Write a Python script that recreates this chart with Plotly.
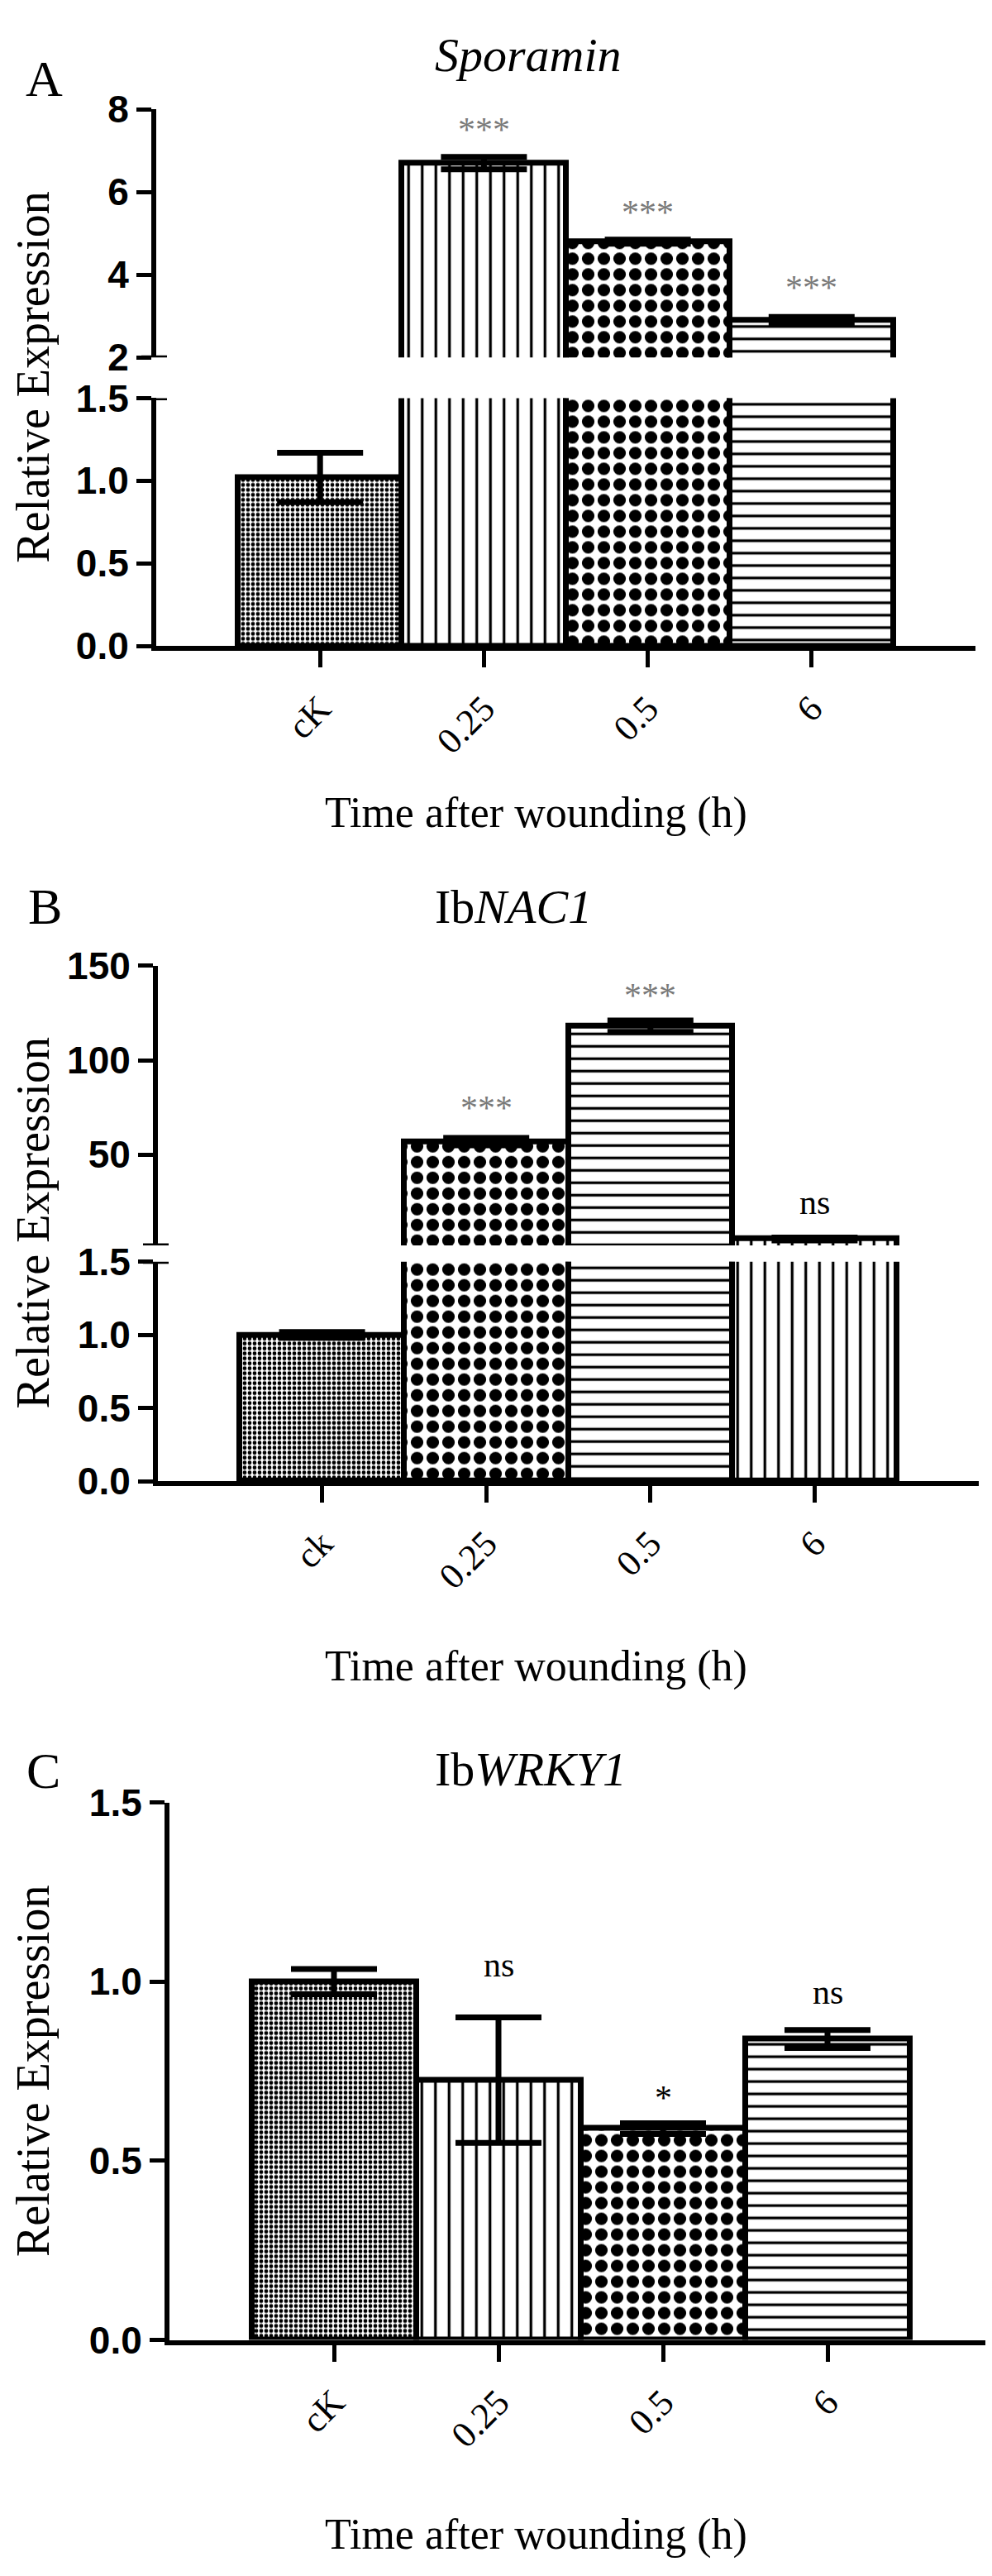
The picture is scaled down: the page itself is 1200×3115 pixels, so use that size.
import plotly.graph_objects as go

W, H = 1200, 3115

# ---------------- data ----------------
cats_A = ["cK", "0.25", "0.5", "6"]
vals_A = [1.02, 6.70, 4.80, 2.90]
err_A = [0.15, 0.15, 0.05, 0.08]
sig_A = ["", "***", "***", "***"]

cats_B = ["ck", "0.25", "0.5", "6"]
vals_B = [1.00, 56.9, 118.0, 5.4]
err_B = [0.02, 2.0, 3.0, 0.8]
sig_B = ["", "***", "***", "ns"]

cats_C = ["cK", "0.25", "0.5", "6"]
vals_C = [1.00, 0.725, 0.59, 0.84]
err_C = [0.035, 0.175, 0.015, 0.025]
sig_C = ["", "ns", "*", "ns"]

titles = ["<i>Sporamin</i>", "Ib<i>NAC1</i>", "Ib<i>WRKY1</i>"]
letters = ["A", "B", "C"]
ytitle = "Relative Expression"
xtitle = "Time after wounding (h)"

# ---------------- styles ----------------
PAT = {
    "fine": dict(shape=".", size=6, solidity=0.5),
    "checker": dict(shape=".", size=19, solidity=0.5),
    "vline": dict(shape="|", size=16.5, solidity=0.2),
    "hline": dict(shape="-", size=15, solidity=0.22),
}
pats_A = ["fine", "vline", "checker", "hline"]
pats_B = ["fine", "checker", "hline", "vline"]
pats_C = ["fine", "vline", "checker", "hline"]

# pixel offsets of the significance marks above the error caps
shift_A = [0, 33, 33, 35]
shift_B = [0, 36, 30, 42]
shift_C = [0, 64, 30, 46]

SERIF = "Liberation Serif"
SANS = "Liberation Sans"


def fx(px):
    return px / W


def fy(py):
    return 1 - py / H


panels = [
    dict(cats=cats_A, vals=vals_A, err=err_A, sig=sig_A, pats=pats_A, shift=shift_A,
         x0=181, x1=1172,
         segs=[dict(top=100, bot=405, rng=[2, 8], ticks=[2, 4, 6, 8], fmt="d"),
               dict(top=455, bot=760, rng=[0, 1.5], ticks=[0, 0.5, 1, 1.5], fmt=".1f")],
         title_y=33, letter=(45, 62), ytitle_y=430, xtitle_y=965),
    dict(cats=cats_B, vals=vals_B, err=err_B, sig=sig_B, pats=pats_B, shift=shift_B,
         x0=183, x1=1176,
         segs=[dict(top=1153, bot=1497, rng=[2, 150], ticks=[50, 100, 150], fmt="d"),
               dict(top=1517, bot=1787, rng=[0, 1.5], ticks=[0, 0.5, 1, 1.5], fmt=".1f")],
         title_y=1081, letter=(46, 1080), ytitle_y=1470, xtitle_y=2015),
    dict(cats=cats_C, vals=vals_C, err=err_C, sig=sig_C, pats=pats_C, shift=shift_C,
         x0=197, x1=1192,
         segs=[dict(top=2182, bot=2843, rng=[0, 1.5], ticks=[0, 0.5, 1, 1.5], fmt=".1f")],
         title_y=2141, letter=(44, 2143), ytitle_y=2513, xtitle_y=3082),
]

fig = go.Figure()
layout = {}
annotations = []
shapes = []
k = 0
for pi, p in enumerate(panels):
    nseg = len(p["segs"])
    for si, s in enumerate(p["segs"]):
        k += 1
        xa = "x" if k == 1 else f"x{k}"
        ya = "y" if k == 1 else f"y{k}"
        xkey = "xaxis" if k == 1 else f"xaxis{k}"
        ykey = "yaxis" if k == 1 else f"yaxis{k}"
        is_bottom = si == nseg - 1
        # only bars that reach into this axis segment
        keep = [i for i, v in enumerate(p["vals"]) if v > s["rng"][0]]
        pat = dict(
            shape=[PAT[p["pats"][i]]["shape"] for i in keep],
            size=[PAT[p["pats"][i]]["size"] for i in keep],
            solidity=[PAT[p["pats"][i]]["solidity"] for i in keep],
            fgcolor="black", bgcolor="white", fillmode="replace",
        )
        fig.add_trace(go.Bar(
            x=[p["cats"][i] for i in keep], y=[p["vals"][i] for i in keep],
            xaxis=xa, yaxis=ya,
            marker=dict(color="white", line=dict(color="black", width=7), pattern=pat),
            error_y=dict(type="data", array=[p["err"][i] for i in keep], visible=True,
                         color="black", thickness=7, width=52),
            showlegend=False, hoverinfo="skip",
        ))
        layout[xkey] = dict(
            domain=[fx(p["x0"]), fx(p["x1"])], anchor=ya, type="category",
            categoryorder="array", categoryarray=p["cats"],
            range=[-1, 4], visible=is_bottom, showline=True, linewidth=6,
            linecolor="black", ticks="outside", ticklen=20, tickwidth=5,
            tickcolor="black", tickangle=-45, showgrid=False, zeroline=False,
            tickfont=dict(family=SERIF, size=44, color="black"),
            ticklabelstandoff=6,
        )
        layout[ykey] = dict(
            domain=[fy(s["bot"]), fy(s["top"])], anchor=xa, range=s["rng"],
            tickmode="array", tickvals=s["ticks"], tickformat=s["fmt"],
            showline=True, linewidth=6, linecolor="black", ticks="outside",
            ticklen=18, tickwidth=5, tickcolor="black", showgrid=False,
            zeroline=False,
            tickfont=dict(family=SANS, size=46, color="black", weight="bold"),
        )
        # axis break markers
        if nseg > 1:
            ybreak = s["rng"][0] if si == 0 else s["rng"][1]
            shapes.append(dict(
                type="line", xref="paper", yref=ya, xsizemode="pixel",
                xanchor=fx(p["x0"]), x0=-18, x1=13, y0=ybreak, y1=ybreak,
                line=dict(color="black", width=5),
            ))
        # significance labels
        for i, (v, e, t) in enumerate(zip(p["vals"], p["err"], p["sig"])):
            if not t:
                continue
            if s["rng"][0] <= v + e <= s["rng"][1]:
                grey = t.startswith("***")
                annotations.append(dict(
                    x=i, y=v + e, xref=xa, yref=ya, text=t, showarrow=False,
                    yanchor="middle", yshift=p["shift"][i],
                    font=dict(family=SERIF, size=42,
                              color="#7a7a7a" if grey else "black"),
                ))
    # panel texts
    annotations.append(dict(
        x=fx(516), y=fy(p["title_y"]), xref="paper", yref="paper",
        text=titles[pi], showarrow=False, xanchor="left", yanchor="middle",
        font=dict(family=SERIF, size=58, color="black"),
    ))
    annotations.append(dict(
        x=fx(p["letter"][0]), y=fy(p["letter"][1]), xref="paper", yref="paper",
        text=letters[pi], showarrow=False, xanchor="center", yanchor="middle",
        font=dict(family=SERIF, size=62, color="black"),
    ))
    annotations.append(dict(
        x=fx(32), y=fy(p["ytitle_y"]), xref="paper", yref="paper",
        text=ytitle, showarrow=False, textangle=-90, xanchor="center",
        yanchor="middle", font=dict(family=SERIF, size=56, color="black"),
    ))
    annotations.append(dict(
        x=fx(640), y=fy(p["xtitle_y"]), xref="paper", yref="paper",
        text=xtitle, showarrow=False, xanchor="center", yanchor="middle",
        font=dict(family=SERIF, size=52, color="black"),
    ))

fig.update_layout(
    width=W, height=H, margin=dict(l=0, r=0, t=0, b=0),
    paper_bgcolor="white", plot_bgcolor="white",
    bargap=0, showlegend=False,
    annotations=annotations, shapes=shapes,
    **layout,
)

fig.write_html("out.html")
